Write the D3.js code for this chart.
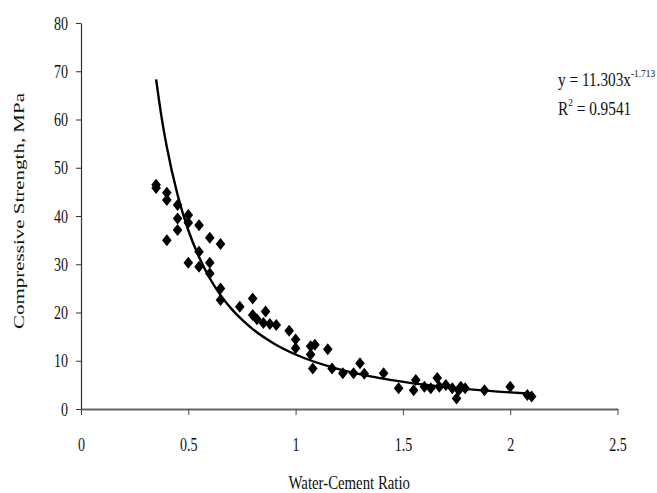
<!DOCTYPE html>
<html>
<head>
<meta charset="utf-8">
<script src="https://cdn.jsdelivr.net/npm/d3@7"></script>
<style>
    body { margin: 0; background: #fff; }
    text { font-family: "Liberation Serif", "Times New Roman", serif; fill: #111; }
</style>
</head>
<body>
<script>
// measured points (water-cement ratio, compressive strength MPa)
var ratio = [0.35, 0.35, 0.40, 0.40, 0.45, 0.45, 0.50, 0.50, 0.55, 0.45, 0.40, 0.60, 0.65, 0.55,
    0.50, 0.55, 0.60, 0.60, 0.65, 0.65, 0.74, 0.80, 0.80, 0.82, 0.86, 0.85, 0.88, 0.91, 0.97,
    1.00, 1.00, 1.07, 1.07, 1.09, 1.15, 1.08, 1.17, 1.22, 1.27, 1.30, 1.32, 1.41, 1.48, 1.56,
    1.55, 1.60, 1.63, 1.66, 1.67, 1.70, 1.73, 1.75, 1.76, 1.77, 1.79, 1.88, 2.00, 2.08, 2.10];
var strength = [46.5, 45.8, 44.8, 43.3, 42.3, 39.5, 40.2, 38.6, 38.1, 37.1, 35.0, 35.5, 34.2, 32.6,
    30.3, 29.5, 30.3, 28.1, 25.0, 22.6, 21.2, 22.9, 19.5, 18.6, 20.2, 17.8, 17.6, 17.4, 16.2,
    14.4, 12.6, 13.0, 11.3, 13.3, 12.4, 8.4, 8.4, 7.4, 7.4, 9.5, 7.3, 7.4, 4.3, 6.0,
    3.9, 4.6, 4.3, 6.4, 4.6, 5.0, 4.3, 2.2, 3.9, 4.6, 4.3, 3.9, 4.6, 2.9, 2.6];

// power trend line as drawn
var trendX = [0.35, 0.375, 0.40, 0.45, 0.50, 0.55, 0.60, 0.65, 0.70, 0.75, 0.80, 0.90, 1.00, 1.20, 1.40, 1.60, 1.80, 2.00, 2.10];
var trendY = [68.3, 60.6, 54.3, 44.4, 37.05, 31.5, 27.1, 23.6, 20.8, 18.5, 16.56, 13.54, 11.3, 8.27, 6.35, 5.05, 4.13, 3.45, 3.17];

var xTicks = [0, 0.5, 1, 1.5, 2, 2.5];
var yTicks = [0, 10, 20, 30, 40, 50, 60, 70, 80];
var xTitle = 'Water-Cement Ratio';
var yTitle = 'Compressive Strength, MPa';
var eqText = 'y = 11.303x';
var eqPower = '-1.713';
var r2Value = '0.9541';

var WIDTH = 657;
var HEIGHT = 493;
var SQUISH = 0.78;

var svg = d3.select('body').append('svg')
    .attr('width', WIDTH)
    .attr('height', HEIGHT)
    .style('background-color', '#fff');

var x = d3.scaleLinear().domain([0, 2.5]).range([81, 617.5]);
var y = d3.scaleLinear().domain([0, 80]).range([409, 23]);

// y axis
var yAxis = svg.append('g')
    .attr('transform', 'translate(' + x(0) + ',0)')
    .call(d3.axisLeft(y).tickValues(yTicks).tickSize(5).tickSizeOuter(0).tickFormat(d3.format('d')));
yAxis.select('.domain').attr('stroke', '#333').attr('stroke-width', 1.2);
yAxis.selectAll('.tick line').attr('stroke', '#333');
yAxis.selectAll('.tick text')
    .attr('font-size', 18)
    .attr('font-family', '"Liberation Serif", serif')
    .attr('fill', '#111')
    .attr('x', -13 / SQUISH)
    .attr('dy', '0.34em')
    .attr('transform', 'scale(' + SQUISH + ',1)');

// x axis
var xAxis = svg.append('g')
    .attr('transform', 'translate(0,' + y(0) + ')')
    .call(d3.axisBottom(x).tickValues(xTicks).tickSize(6).tickSizeOuter(0).tickFormat(function(d){ return String(d); }));
xAxis.select('.domain').attr('stroke', '#666').attr('stroke-width', 1.8);
xAxis.selectAll('.tick line').attr('stroke', '#444');
xAxis.selectAll('.tick text')
    .attr('font-size', 18)
    .attr('font-family', '"Liberation Serif", serif')
    .attr('fill', '#111')
    .attr('y', 42.5)
    .attr('dy', '0')
    .attr('transform', 'scale(' + SQUISH + ',1)');

// titles
svg.append('text')
    .attr('transform', 'translate(' + ((x(0) + x(2.5)) / 2) + ',489) scale(' + SQUISH + ',1)')
    .attr('text-anchor', 'middle')
    .attr('font-size', 19)
    .text(xTitle);

svg.append('text')
    .attr('transform', 'translate(24,211) scale(0.68,1) rotate(-90)')
    .attr('text-anchor', 'middle')
    .attr('font-size', 21)
    .text(yTitle);

// trend line
var line = d3.line()
    .x(function(d){ return x(d[0]); })
    .y(function(d){ return y(d[1]); })
    .curve(d3.curveMonotoneX);

svg.append('path')
    .datum(d3.zip(trendX, trendY))
    .attr('d', line)
    .attr('fill', 'none')
    .attr('stroke', '#000')
    .attr('stroke-width', 2.4);

// diamonds
svg.selectAll('.pt').data(d3.zip(ratio, strength)).enter()
    .append('path')
    .attr('class', 'pt')
    .attr('d', 'M0,-6L4.8,0L0,6L-4.8,0Z')
    .attr('transform', function(d){ return 'translate(' + x(d[0]) + ',' + y(d[1]) + ')'; })
    .attr('fill', '#000');

// equation
var eq = svg.append('text')
    .attr('transform', 'translate(558,86) scale(0.85,1)')
    .attr('font-size', 18);
eq.append('tspan').text(eqText);
eq.append('tspan').attr('font-size', 11).attr('dy', -9).text(eqPower);

var r2 = svg.append('text')
    .attr('transform', 'translate(558,114.5) scale(0.85,1)')
    .attr('font-size', 18);
r2.append('tspan').text('R');
r2.append('tspan').attr('font-size', 11).attr('dy', -9).text('2');
r2.append('tspan').attr('dy', 9).text(' = ' + r2Value);
</script>
</body>
</html>
